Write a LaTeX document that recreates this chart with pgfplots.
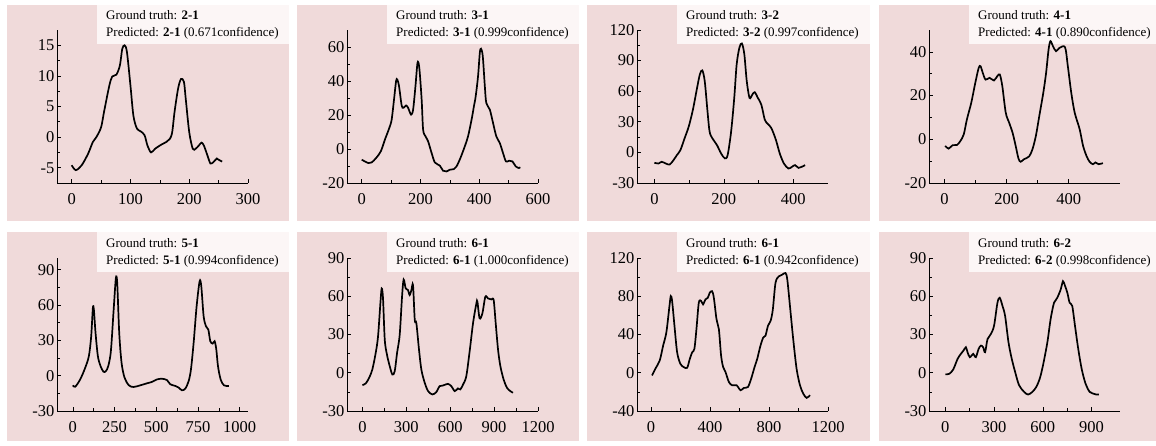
\documentclass[border=0pt]{standalone}
\usepackage{fontspec}
\setmainfont{Liberation Serif}
\usepackage{pgfplots}
\pgfplotsset{compat=1.18}
\definecolor{pinkbg}{RGB}{240,218,218}
\definecolor{boxbg}{RGB}{252,246,246}
\newcommand\legfont{\fontsize{13bp}{15bp}\selectfont}
\pgfplotsset{
  pan/.style={
    scale only axis, width=191bp, height=153bp, anchor=south west,
    axis lines*=left, axis line style={line width=0.8bp, black},
    tick align=inside, major tick length=4bp, minor tick length=2.5bp,
    every tick/.style={black, line width=0.6bp},
    minor x tick num=1, minor y tick num=1,
    tick label style={font=\fontsize{16.5bp}{16.5bp}\selectfont},
    xticklabel style={yshift=-7bp},
    yticklabel style={xshift=1bp},
    clip=false,
  },
  crv/.style={black, line width=1.7bp, smooth, tension=0.5, mark=none},
}
\begin{document}
\begin{tikzpicture}[x=1bp,y=1bp]
\path[use as bounding box] (0,0) rectangle (1156,446);
% backgrounds
\foreach \l/\r in {7/289,297/579,587/870,879/1156}{
  \fill[pinkbg] (\l,225) rectangle (\r,441);
  \fill[pinkbg] (\l,5) rectangle (\r,214);
  \pgfmathsetmacro\bl{\l+90}
  \fill[boxbg] (\bl,402) rectangle (\r,441);
  \fill[boxbg] (\bl,174) rectangle (\r,214);
}
% legend texts
\node[anchor=base west, inner sep=0, font=\legfont] at (106,426) {Ground truth: \textbf{2-1}};
\node[anchor=base west, inner sep=0, font=\legfont] at (106,409) {Predicted: \textbf{2-1} (0.671confidence)};
\node[anchor=base west, inner sep=0, font=\legfont] at (396,426) {Ground truth: \textbf{3-1}};
\node[anchor=base west, inner sep=0, font=\legfont] at (396,409) {Predicted: \textbf{3-1} (0.999confidence)};
\node[anchor=base west, inner sep=0, font=\legfont] at (686,426) {Ground truth: \textbf{3-2}};
\node[anchor=base west, inner sep=0, font=\legfont] at (686,409) {Predicted: \textbf{3-2} (0.997confidence)};
\node[anchor=base west, inner sep=0, font=\legfont] at (978,426) {Ground truth: \textbf{4-1}};
\node[anchor=base west, inner sep=0, font=\legfont] at (978,409) {Predicted: \textbf{4-1} (0.890confidence)};
\node[anchor=base west, inner sep=0, font=\legfont] at (106,198) {Ground truth: \textbf{5-1}};
\node[anchor=base west, inner sep=0, font=\legfont] at (106,181) {Predicted: \textbf{5-1} (0.994confidence)};
\node[anchor=base west, inner sep=0, font=\legfont] at (396,198) {Ground truth: \textbf{6-1}};
\node[anchor=base west, inner sep=0, font=\legfont] at (396,181) {Predicted: \textbf{6-1} (1.000confidence)};
\node[anchor=base west, inner sep=0, font=\legfont] at (686,198) {Ground truth: \textbf{6-1}};
\node[anchor=base west, inner sep=0, font=\legfont] at (686,181) {Predicted: \textbf{6-1} (0.942confidence)};
\node[anchor=base west, inner sep=0, font=\legfont] at (978,198) {Ground truth: \textbf{6-2}};
\node[anchor=base west, inner sep=0, font=\legfont] at (978,181) {Predicted: \textbf{6-2} (0.998confidence)};

% Panel 1
\begin{axis}[pan, at={(57bp,263bp)},
  xmin=-25, xmax=300, xtick={0,100,200,300}, xticklabels={0,100,200,300},
  ymin=-7.5, ymax=17.5, ytick={-5,0,5,10,15}, yticklabels={-5,0,5,10,15}]
\addplot[crv] coordinates {
(0,-4.6) (7,-5.4) (17,-4.6) (28,-2.7) (36,-0.8) (42,0) (50,1.6) (55,4.1) (64,8.4) (69,9.9) (76,10.2) (82,11.7) (86,14.4) (90,15.0) (94,13.9) (100,8.4) (105,3.5) (111,1.4) (118,0.9) (124,0.3) (129,-1.4) (135,-2.5) (142,-1.9) (153,-1.2) (161,-0.8) (167,-0.3) (171,0.8) (175,4.1) (181,7.9) (186,9.5) (191,9.0) (194,6.3) (200,0.8) (206,-1.9) (211,-1.9) (217,-1.3) (221,-0.9) (225,-1.4) (231,-3.0) (236,-4.3) (241,-4.1) (247,-3.5) (250,-3.7) (256,-4.0)
};
\end{axis}
% Panel 2
\begin{axis}[pan, at={(347bp,263bp)},
  xmin=-50, xmax=600, xtick={0,200,400,600}, xticklabels={0,200,400,600},
  ymin=-20, ymax=70, ytick={-20,0,20,40,60}, yticklabels={-20,0,20,40,60}]
\addplot[crv] coordinates {
(0,-6.3) (23,-8.3) (34,-7.9) (49,-5.3) (65,-1.4) (79,5.5) (94,12.4) (102,17.3) (110,29.1) (117,39.9) (121,40.9) (127,37) (136,25.6) (142,24.2) (151,25.6) (158,24.2) (168,20.2) (175,23.2) (183,37) (190,50.7) (196,47.8) (204,29.1) (209,11.4) (217,7.5) (226,4.5) (238,-2.4) (249,-7.9) (266,-9.8) (277,-12.8) (289,-13.2) (300,-12.2) (314,-11.8) (323,-10.2) (336,-5.3) (351,1.6) (362,7.5) (374,17.3) (382,25.2) (388,31) (396,42.9) (402,56.6) (406,59) (412,54.7) (419,37) (424,27.1) (436,23.2) (447,15.3) (458,7.5) (470,3.5) (481,-2.4) (491,-7.3) (502,-6.9) (513,-7.3) (524,-10.2) (535,-11.2) (540,-10.8)
};
\end{axis}
% Panel 3
\begin{axis}[pan, at={(637bp,263bp)},
  xmin=-50, xmax=500, xtick={0,200,400}, xticklabels={0,200,400},
  ymin=-30, ymax=120, ytick={-30,0,30,60,90,120}, yticklabels={-30,0,30,60,90,120}]
\addplot[crv] coordinates {
(0,-10.2) (12,-10.9) (21,-9.2) (33,-10.9) (44,-11.9) (55,-7.6) (65,-2.6) (75,2.3) (87,13.8) (99,25.4) (111,41.9) (123,63.3) (131,76.5) (138,80.4) (145,69.9) (153,40.2) (159,20.4) (167,13.8) (180,7.3) (192,-1) (203,-5.9) (211,-2.6) (221,20.4) (230,53.4) (237,86.4) (245,102.9) (252,106.8) (259,96.3) (266,69.9) (274,53.4) (282,56.7) (289,59) (298,53.4) (308,46.8) (318,32) (327,27.7) (337,23.7) (350,12.2) (361,-1) (373,-10.9) (386,-15.8) (396,-14.2) (405,-12.5) (415,-15.2) (424,-14.2) (434,-12.5)
};
\end{axis}
% Panel 4
\begin{axis}[pan, at={(929bp,263bp)},
  xmin=-50, xmax=565, xtick={0,200,400}, xticklabels={0,200,400},
  ymin=-20, ymax=50, ytick={-20,0,20,40}, yticklabels={-20,0,20,40}]
\addplot[crv] coordinates {
(2,-3) (13,-4.3) (26,-2.7) (40,-2.6) (51,-0.8) (62,2.3) (72,9.1) (86,16.7) (99,25.8) (110,32.7) (116,33.4) (123,30.4) (132,27.3) (145,28.1) (159,26.9) (170,28.9) (178,29.6) (186,24.3) (197,12.2) (208,7.6) (219,3) (229,-3) (238,-8.8) (245,-10.3) (256,-9.1) (272,-7.9) (283,-4.6) (294,1.5) (305,10.6) (318,21.3) (327,30.4) (335,41.1) (341,44.9) (349,42.6) (359,40.3) (370,41.8) (388,42.1) (397,33.4) (408,21.3) (419,12.2) (435,4.6) (446,-3) (457,-7.6) (467,-10.3) (478,-11.4) (486,-10.6) (496,-11.4) (510,-10.9)
};
\end{axis}
% Panel 5
\begin{axis}[pan, at={(57bp,35bp)},
  xmin=-95, xmax=1050, xtick={0,250,500,750,1000}, xticklabels={0,250,500,750,1000},
  ymin=-30, ymax=100, ytick={-30,0,30,60,90}, yticklabels={-30,0,30,60,90}]
\addplot[crv] coordinates {
(0,-8.2) (14,-9.4) (44,-3.2) (74,6.7) (96,16.6) (110,33.5) (120,57.5) (126,56.1) (136,36.4) (150,16.6) (166,8.1) (184,3.3) (198,3.9) (212,8.1) (228,20.9) (246,59) (258,83) (266,78.7) (278,36.4) (292,11) (310,-1.7) (336,-8.2) (364,-9.6) (404,-8.2) (444,-6.5) (474,-5.3) (504,-3.2) (534,-2.6) (564,-3.7) (584,-7.3) (614,-8.7) (634,-10.1) (654,-12.4) (674,-11) (694,-4.7) (708,5.3) (724,27.8) (742,59) (760,80.2) (770,75.9) (784,50.5) (798,42) (812,39.2) (824,29.3) (838,27.3) (850,29.3) (860,22.2) (870,8.1) (886,-3.2) (906,-8.2) (935,-8.8)
};
\end{axis}
% Panel 6
\begin{axis}[pan, at={(347bp,35bp)},
  xmin=-105, xmax=1200, xtick={0,300,600,900,1200}, xticklabels={0,300,600,900,1200},
  ymin=-30, ymax=90, ytick={-30,0,30,60,90}, yticklabels={-30,0,30,60,90}]
\addplot[crv] coordinates {
(0,-9.7) (23,-8.4) (46,-4) (68,2.5) (91,15.5) (107,28.4) (123,54.4) (132,66.1) (141,58.3) (153,25.8) (168,14.2) (187,5.1) (205,-1.4) (221,1.2) (237,15.5) (255,29.7) (271,59.6) (282,73.1) (296,66.1) (312,64.8) (323,60.9) (335,64.8) (346,68.7) (358,41.4) (369,38.8) (387,18) (403,2.5) (426,-7.9) (449,-14.4) (478,-17) (505,-15.2) (528,-10.5) (551,-10) (569,-9.2) (585,-8.7) (608,-10.5) (631,-14.4) (653,-12.3) (669,-13.1) (688,-9.2) (710,-2.7) (733,16.8) (756,38.8) (779,54.4) (786,55.7) (801,42.7) (820,46.6) (840,59.6) (858,58.3) (881,57.5) (897,57) (911,38.8) (927,18) (943,5.1) (965,-5.3) (988,-11.8) (1011,-14.4) (1029,-15.7)
};
\end{axis}
% Panel 7
\begin{axis}[pan, at={(637bp,35bp)},
  xmin=-95, xmax=1200, xtick={0,400,800,1200}, xticklabels={0,400,800,1200},
  ymin=-40, ymax=120, ytick={-40,0,40,80,120}, yticklabels={-40,0,40,80,120}]
\addplot[crv] coordinates {
(7,-2.8) (29,4.1) (59,12.8) (82,28.3) (104,42.2) (125,69.8) (134,80.2) (143,75) (159,49.1) (177,21.4) (199,9.3) (222,5.9) (245,5.2) (263,14.5) (279,21.4) (294,24.9) (308,45.6) (324,73.3) (340,75) (353,71.5) (369,76.7) (385,78.4) (398,83.6) (414,85.3) (426,78.4) (444,56) (460,45.6) (475,18) (489,5.9) (505,0.7) (528,-9.7) (550,-13.1) (580,-13.1) (607,-18.3) (629,-15.9) (657,-14.9) (679,-6.2) (702,5.9) (720,14.5) (742,28.3) (761,36.9) (776,38.7) (793,49.1) (811,54.3) (826,66.3) (844,94) (867,100.9) (890,102.6) (912,104.3) (924,97.4) (942,69.8) (964,35.2) (987,4.1) (1010,-13.1) (1032,-21.8) (1055,-26.3) (1078,-23.5)
};
\end{axis}
% Panel 8
\begin{axis}[pan, at={(929bp,35bp)},
  xmin=-100, xmax=1075, xtick={0,300,600,900}, xticklabels={0,300,600,900},
  ymin=-30, ymax=90, ytick={-30,0,30,60,90}, yticklabels={-30,0,30,60,90}]
\addplot[crv] coordinates {
(0,-1.3) (25,-0.8) (49,2.6) (76,10.9) (96,14.8) (112,17.4) (127,20) (137,16.1) (151,12.2) (172,14.8) (188,12.2) (205,18.7) (219,21.3) (233,20) (245,16.1) (260,26.4) (280,30.3) (300,36.8) (321,54.9) (335,58.8) (352,52.4) (368,44.6) (389,23.8) (409,10.9) (430,0.5) (454,-9.8) (485,-15) (509,-17.1) (536,-15) (560,-11.1) (581,-4.7) (601,5.7) (628,23.8) (648,42) (669,54.9) (689,58.8) (710,65.3) (724,71.8) (736,68.4) (751,62.7) (765,54.9) (781,52.4) (798,36.8) (818,18.7) (839,3.1) (863,-8.6) (888,-15) (908,-16.3) (929,-17.1) (945,-17)
};
\end{axis}
\end{tikzpicture}
\end{document}
